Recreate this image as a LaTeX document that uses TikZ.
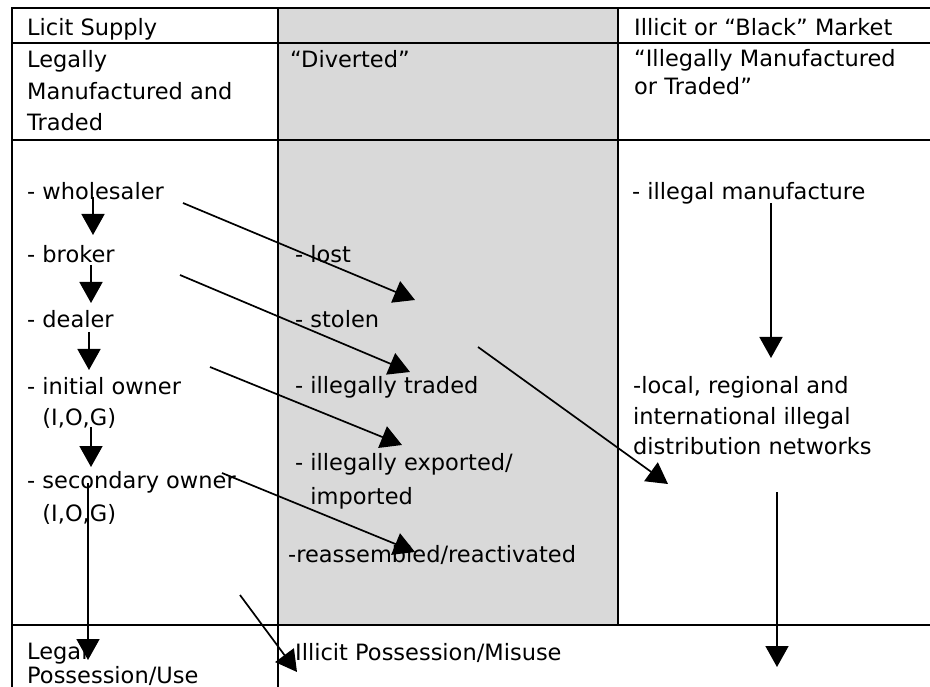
\documentclass[tikz,border=0pt]{standalone}
\usepackage{fontspec}
\setmainfont{DejaVu Sans}
\usetikzlibrary{arrows.meta}
\definecolor{cellgray}{RGB}{217,217,217}
\newcommand\fs{\fontsize{22.5}{31.5}\selectfont}
\newcommand\mlines[2]{{\fontsize{22.5}{#1}\selectfont\begin{tabular}[t]{@{}l@{}}#2\end{tabular}}}
\begin{document}
\begin{tikzpicture}[x=1pt,y=-1pt,
  gridline/.style={line width=2.5pt},
  conn/.style={line width=1.7pt,-{Triangle[length=21pt,width=23pt]}},
  txt/.style={anchor=base west,inner sep=0pt,font=\fs}]
\useasboundingbox (0,0) rectangle (930,687);
% background of middle column
\fill[cellgray] (278,8) rectangle (618,625);
% table grid
\draw[gridline] (12,700) -- (12,8) -- (940,8);
\draw[gridline] (12,43) -- (940,43);
\draw[gridline] (12,140) -- (940,140);
\draw[gridline] (12,625) -- (940,625);
\draw[gridline] (278,8) -- (278,700);
\draw[gridline] (618,8) -- (618,625);
% headers
\node[txt] (hL) at (27,36) {Licit Supply};
\node[txt] (hR) at (634,36) {Illicit or “Black” Market};
\node[txt] (sL) at (27,68) {\mlines{31.5}{Legally\\Manufactured and\\Traded}};
\node[txt] (sM) at (290,68) {“Diverted”};
\node[txt] (sR) at (634,67) {\mlines{28}{“Illegally Manufactured\\or Traded”}};
% left column
\node[txt] (whole) at (27,200) {- wholesaler};
\node[txt] (broker) at (27,263) {- broker};
\node[txt] (dealer) at (27,328) {- dealer};
\node[txt] (initial) at (27,394) {- \mlines{32}{initial owner\\(I,O,G)}};
\node[txt] (second) at (27,488) {- \mlines{33}{secondary owner\\(I,O,G)}};
\node[txt] (legal) at (27,659) {\mlines{24}{Legal\\Possession/Use}};
% middle column
\node[txt] (lost) at (295,263) {- lost};
\node[txt] (stolen) at (295,328) {- stolen};
\node[txt] (traded) at (295,393) {- illegally traded};
\node[txt] (export) at (295,470) {- \mlines{34}{illegally exported/\\imported}};
\node[txt] (reass) at (288,562) {-reassembled/reactivated};
\node[txt] (illpos) at (295,660) {Illicit Possession/Misuse};
% right column
\node[txt] (illman) at (632,200) {- illegal manufacture};
\node[txt] (netw) at (633,393) {\mlines{31}{-local, regional and\\international illegal\\distribution networks}};
% arrow end points
\coordinate (a1s) at (93,197);  \coordinate (a1e) at (93,235);
\coordinate (a2s) at (91,265);  \coordinate (a2e) at (91,303);
\coordinate (a3s) at (89,332);  \coordinate (a3e) at (89,370);
\coordinate (a4s) at (91,427);  \coordinate (a4e) at (91,467);
\coordinate (a5s) at (88,483);  \coordinate (a5e) at (88,660);
\coordinate (a6s) at (183,203); \coordinate (a6e) at (415,300);
\coordinate (a7s) at (180,275); \coordinate (a7e) at (410,372);
\coordinate (a8s) at (210,367); \coordinate (a8e) at (402,445);
\coordinate (a9s) at (222,473); \coordinate (a9e) at (415,552);
\coordinate (a10s) at (478,347); \coordinate (a10e) at (668,484);
\coordinate (a11s) at (771,203); \coordinate (a11e) at (771,358);
\coordinate (a12s) at (777,492); \coordinate (a12e) at (777,667);
\coordinate (a13s) at (240,595); \coordinate (a13e) at (297,672);
\foreach \i in {1,...,13} {\draw[conn] (a\i s) -- (a\i e);}
\end{tikzpicture}
\end{document}
